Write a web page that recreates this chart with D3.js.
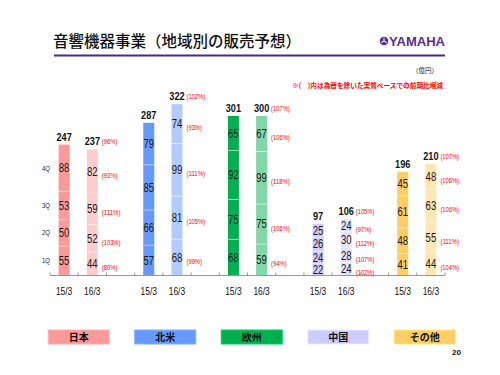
<!DOCTYPE html>
<html>
<head>
<meta charset="utf-8">
<script src="https://cdn.jsdelivr.net/npm/d3@7"></script>
<style>
  body { margin: 0; background: #fff; }
  svg { display: block; }
</style>
</head>
<body>
<div id="chart"></div>
<script>
// data (億円)
const regions = ['日本', '北米', '欧州', '中国', 'その他'];
const periods = ['15/3', '16/3'];
const quarters = ['1Q', '2Q', '3Q', '4Q'];

// quarterly values, 1Q..4Q
const q15 = [[55, 50, 53, 88], [57, 66, 85, 79], [68, 75, 92, 65], [22, 24, 26, 25], [41, 48, 61, 45]];
const q16 = [[44, 52, 59, 82], [68, 81, 99, 74], [59, 75, 99, 67], [24, 28, 30, 24], [44, 55, 63, 48]];
const total15 = [247, 287, 301, 97, 196];
const total16 = [237, 322, 300, 106, 210];
// real-basis yoy (%), excluding FX
const pctQ16 = [[80, 103, 111, 93], [99, 105, 111, 93], [94, 106, 118, 106], [102, 107, 112, 97], [104, 111, 106, 106]];
const pctTotal16 = [96, 102, 107, 105, 107];

const colors15 = ['#ff9999', '#6699ff', '#00b050', '#ccccff', '#ffcc66'];
const colors16 = ['#ffcccc', '#b3ccff', '#80d8a6', '#e2e2ff', '#ffe6b3'];

const W = 500, H = 375;
const numFont = '"Liberation Sans", Arial, sans-serif';
const jpFont = '"Noto Sans CJK JP", "Noto Sans", sans-serif';

// narrow digits like the slide's gothic font: squeeze by char count
const squeeze = (sel, perChar) => sel
  .attr('textLength', function () { return this.textContent.length * perChar; })
  .attr('lengthAdjust', 'spacingAndGlyphs');

const svg = d3.select('#chart').append('svg')
  .attr('width', W)
  .attr('height', H);

// title + rule
svg.append('text')
  .attr('x', 53).attr('y', 47)
  .attr('font-family', jpFont)
  .attr('font-weight', 500)
  .attr('font-size', 15.5)
  .attr('fill', '#111')
  .text('音響機器事業（地域別の販売予想）');

svg.append('line')
  .attr('x1', 54).attr('x2', 445)
  .attr('y1', 55.5).attr('y2', 55.5)
  .attr('stroke', '#4b2a84')
  .attr('stroke-width', 2);

// yamaha mark
const logo = svg.append('g').attr('transform', 'translate(384,41)');
logo.append('circle').attr('r', 4.3).attr('fill', '#5a2d91');
[0, 120, 240].forEach(a => {
  logo.append('line')
    .attr('x1', 0).attr('y1', 0).attr('x2', 0).attr('y2', -3.4)
    .attr('stroke', '#fff').attr('stroke-width', 0.9)
    .attr('transform', `rotate(${a})`);
});
svg.append('text')
  .attr('x', 389).attr('y', 46)
  .attr('font-family', numFont)
  .attr('font-weight', 'bold')
  .attr('font-size', 13)
  .attr('textLength', 56)
  .attr('lengthAdjust', 'spacingAndGlyphs')
  .attr('fill', '#5a2d91')
  .text('YAMAHA');

svg.append('text')
  .attr('x', 438).attr('y', 73)
  .attr('text-anchor', 'end')
  .attr('font-family', jpFont)
  .attr('font-size', 6.5)
  .attr('fill', '#222')
  .text('（億円）');

svg.append('text')
  .attr('x', 292).attr('y', 88)
  .attr('font-family', jpFont)
  .attr('font-weight', 'bold')
  .attr('font-size', 6.5)
  .attr('textLength', 151)
  .attr('lengthAdjust', 'spacingAndGlyphs')
  .attr('fill', '#ff0000')
  .text('※(　)内は為替を除いた実質ベースでの前期比増減');

// slots: two bars per region, an empty slot between regions
const slots = [];
regions.forEach((r, i) => {
  periods.forEach((p, j) => slots.push(`${i}-${j}`));
  if (i < regions.length - 1) slots.push(`gap${i}`);
});

const x = d3.scaleBand().domain(slots).range([50, 445]).padding(0);
const y = d3.scaleLinear().domain([0, 400]).range([275.5, 62.7]);
const barW = 11;

const bars = [];
regions.forEach((r, i) => {
  [q15[i], q16[i]].forEach((vals, j) => {
    let acc = 0;
    const segs = vals.map((v, k) => {
      const s = { v, y0: acc, y1: acc + v, k };
      acc += v;
      return s;
    });
    bars.push({
      key: `${i}-${j}`,
      period: periods[j],
      segs,
      top: acc,
      total: j ? total16[i] : total15[i],
      color: j ? colors16[i] : colors15[i],
      pct: j ? pctQ16[i] : null,
      pctTotal: j ? pctTotal16[i] : null
    });
  });
});

const barG = svg.selectAll('g.bar')
  .data(bars)
  .join('g')
  .attr('class', 'bar')
  .attr('transform', d => `translate(${x(d.key) + x.bandwidth() / 2},0)`);

barG.selectAll('rect')
  .data(d => d.segs.map(s => ({ ...s, color: d.color })))
  .join('rect')
  .attr('x', -barW / 2)
  .attr('width', barW)
  .attr('y', s => y(s.y1))
  .attr('height', s => y(s.y0) - y(s.y1))
  .attr('fill', s => s.color);

// light separators between quarters
barG.selectAll('line.sep')
  .data(d => d.segs.slice(0, 3))
  .join('line')
  .attr('class', 'sep')
  .attr('x1', -barW / 2).attr('x2', barW / 2)
  .attr('y1', s => y(s.y1)).attr('y2', s => y(s.y1))
  .attr('stroke', '#fff')
  .attr('stroke-opacity', 0.45)
  .attr('stroke-width', 1);

barG.selectAll('text.val')
  .data(d => d.segs)
  .join('text')
  .attr('class', 'val')
  .attr('y', s => (y(s.y0) + y(s.y1)) / 2)
  .attr('dy', '0.36em')
  .attr('text-anchor', 'middle')
  .attr('font-family', numFont)
  .attr('font-size', 12)
  .attr('fill', '#1a1a1a')
  .text(s => s.v)
  .call(squeeze, 5.3);

barG.filter(d => d.pct)
  .selectAll('text.pct')
  .data(d => d.segs.map((s, k) => ({ ...s, p: d.pct[k] })))
  .join('text')
  .attr('class', 'pct')
  .attr('x', barW / 2 + 4)
  .attr('y', s => (y(s.y0) + y(s.y1)) / 2 + 4)
  .attr('dy', '0.36em')
  .attr('font-family', numFont)
  .attr('font-size', 6.5)
  .attr('fill', '#ff0000')
  .text(s => `(${s.p}%)`)
  .call(squeeze, 3.1);

barG.append('text')
  .attr('y', d => y(d.top) - 4)
  .attr('text-anchor', 'middle')
  .attr('font-family', numFont)
  .attr('font-weight', 'bold')
  .attr('font-size', 11)
  .attr('fill', '#111')
  .text(d => d.total)
  .call(squeeze, 5.1);

barG.filter(d => d.pctTotal)
  .append('text')
  .attr('x', barW / 2 + 4)
  .attr('y', d => y(d.top) - 5)
  .attr('font-family', numFont)
  .attr('font-size', 6.5)
  .attr('fill', '#ff0000')
  .text(d => `(${d.pctTotal}%)`)
  .call(squeeze, 3.1);

// quarter names, lined up with the first bar's segments
svg.selectAll('text.qname')
  .data(bars[0].segs)
  .join('text')
  .attr('class', 'qname')
  .attr('x', 46)
  .attr('y', s => (y(s.y0) + y(s.y1)) / 2)
  .attr('dy', '0.36em')
  .attr('text-anchor', 'middle')
  .attr('font-family', numFont)
  .attr('font-size', 7)
  .attr('fill', '#222')
  .text(s => quarters[s.k])
  .call(squeeze, 4);

// axis
const [ax0, ax1] = x.range();
svg.append('line')
  .attr('x1', ax0).attr('x2', ax1)
  .attr('y1', y(0)).attr('y2', y(0))
  .attr('stroke', '#999')
  .attr('stroke-width', 1);

svg.selectAll('line.tick')
  .data(slots.map(s => x(s)).concat([ax1]))
  .join('line')
  .attr('class', 'tick')
  .attr('x1', d => d).attr('x2', d => d)
  .attr('y1', y(0) - 3).attr('y2', y(0))
  .attr('stroke', '#999');

svg.selectAll('text.cat')
  .data(bars)
  .join('text')
  .attr('class', 'cat')
  .attr('x', d => x(d.key) + x.bandwidth() / 2)
  .attr('y', y(0) + 19)
  .attr('text-anchor', 'middle')
  .attr('font-family', numFont)
  .attr('font-size', 11)
  .attr('fill', '#111')
  .text(d => d.period)
  .call(squeeze, 4.1);

// legend
const lx = d3.scalePoint().domain(regions).range([78.7, 424.8]);
const lg = svg.selectAll('g.leg')
  .data(regions)
  .join('g')
  .attr('class', 'leg')
  .attr('transform', d => `translate(${lx(d)},337)`);

lg.append('rect')
  .attr('x', -30.5).attr('y', -7)
  .attr('width', 61).attr('height', 14)
  .attr('fill', (d, i) => colors15[i])
  .attr('stroke', (d, i) => d3.color(colors15[i]).brighter(0.4))
  .attr('stroke-width', 1);

lg.append('text')
  .attr('dy', '0.36em')
  .attr('text-anchor', 'middle')
  .attr('font-family', jpFont)
  .attr('font-weight', 'bold')
  .attr('font-size', 10)
  .attr('fill', '#111')
  .text(d => d);

svg.append('text')
  .attr('x', 461).attr('y', 355)
  .attr('text-anchor', 'end')
  .attr('font-family', numFont)
  .attr('font-weight', 'bold')
  .attr('font-size', 8)
  .attr('fill', '#111')
  .text('20');
</script>
</body>
</html>
